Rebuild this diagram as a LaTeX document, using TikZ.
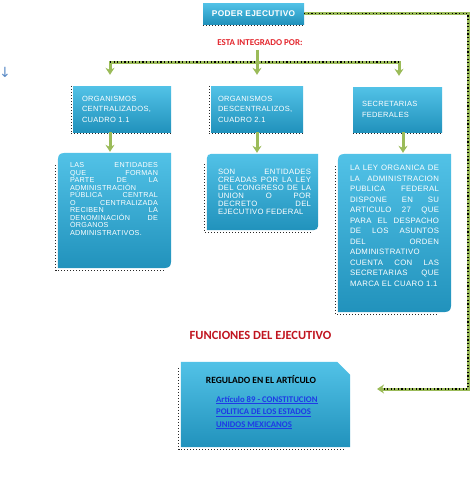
\documentclass[tikz,border=0pt]{standalone}
\usepackage{fontspec}
\setmainfont{Liberation Sans}
\newfontfamily\boxfont[LetterSpace=4]{Liberation Sans}
\newfontfamily\calfont{Carlito}
\newfontfamily\symfont{DejaVu Sans}
\usetikzlibrary{arrows.meta,calc}
\definecolor{pelight}{HTML}{52C2E7}
\definecolor{pedark}{HTML}{2192BC}
\definecolor{pegreen}{HTML}{9BBB59}
\definecolor{pered}{HTML}{E3262D}
\definecolor{pemaroon}{HTML}{C0141F}
\definecolor{pelink}{HTML}{1E3AE6}
\definecolor{pearrow}{HTML}{5A8AC6}

\begin{document}
\begin{tikzpicture}[x=1pt, y=-1pt,
    headbox/.style={rectangle, top color=pelight, bottom color=pedark, minimum width=101pt, minimum height=21pt, inner sep=0pt, text=white, font=\boxfont\bfseries\fontsize{8.3}{10}\selectfont},
    orgbox/.style={rectangle, top color=pelight, bottom color=pedark, minimum height=46pt, inner ysep=0pt, text=white, align=left, font=\boxfont\fontsize{7.5}{10.5}\selectfont},
    areabox/.style 2 args={rectangle, minimum width=#1, minimum height=#2, inner sep=0pt},
    bodytxt/.style={text=white, align=justify, inner sep=0pt},
    boxfill/.style={top color=pelight, bottom color=pedark},
    gline/.style={draw=pegreen, line width=3pt},
    garrow/.style={gline, -{Stealth[length=7pt, width=9pt]}},
    bdots/.style={draw=black, line width=1.2pt, dash pattern=on 1.2pt off 2.4pt},
    shdots/.style={draw=black!85, line width=1pt, dash pattern=on 1pt off 2pt}]
\useasboundingbox (0,0) rectangle (474,482);

% cabeza
\node[headbox] (pe) at (253.5,13.5) {PODER EJECUTIVO};
\draw[shdots] ([yshift=-1.5pt]pe.south west) -- ([yshift=-1.5pt]pe.south east);
\node[font=\calfont\bfseries\fontsize{9}{10}\selectfont, text=pered] (integ) at (260,43) {ESTA INTEGRADO POR:};
\node[font=\symfont\fontsize{14}{15}\selectfont, text=pearrow, inner sep=0pt] (flecha) at (5,72) {↓};

% organismos
\node[orgbox, text width=80pt, inner xsep=9pt] (cen) at (122,109) {ORGANISMOS\\CENTRALIZADOS,\\CUADRO 1.1};
\node[orgbox, text width=78pt, inner xsep=7pt] (des) at (257,109) {ORGANISMOS\\DESCENTRALIZOS,\\CUADRO 2.1};
\node[orgbox, text width=71pt, inner xsep=9pt, minimum height=45pt] (sec) at (397.5,109.5) {SECRETARIAS\\FEDERALES};
\draw[shdots] ([xshift=-1.5pt]cen.north west) |- ([yshift=-1.5pt]cen.south east);
\draw[shdots] ([xshift=-1.5pt]des.north west) |- ([yshift=-1.5pt]des.south east);
\draw[shdots] ([yshift=-1.5pt]sec.south west) -- ([yshift=-1.5pt]sec.south east);

% descripciones
\node[areabox={113pt}{115pt}] (ent) at (114.5,210.5) {};
\node[areabox={111pt}{76pt}] (cre) at (262.5,192) {};
\node[areabox={113pt}{158pt}] (ley) at (394.5,233) {};
\shade[boxfill] (ent.south west) -- ($(ent.north west)+(0,14)$) .. controls (ent.north west) .. ($(ent.north west)+(14,0)$) -- (ent.north east) -- ($(ent.south east)+(0,-14)$) .. controls (ent.south east) .. ($(ent.south east)+(-14,0)$) -- cycle;
\shade[boxfill] (cre.south west) -- ($(cre.north west)+(0,10)$) .. controls (cre.north west) .. ($(cre.north west)+(10,0)$) -- (cre.north east) -- ($(cre.south east)+(0,-10)$) .. controls (cre.south east) .. ($(cre.south east)+(-10,0)$) -- cycle;
\shade[boxfill] (ley.south west) -- ($(ley.north west)+(0,14)$) .. controls (ley.north west) .. ($(ley.north west)+(14,0)$) -- (ley.north east) -- ($(ley.south east)+(0,-14)$) .. controls (ley.south east) .. ($(ley.south east)+(-14,0)$) -- cycle;
\draw[shdots] ($(ent.north west)+(-2,12)$) |- ($(ent.south east)+(-6,2)$);
\draw[shdots] ($(cre.north west)+(-2,10)$) |- ($(cre.south east)+(-6,2)$);
\draw[shdots] ($(ley.north west)+(-2,12)$) |- ($(ley.south east)+(-12,2)$);

\node[bodytxt, text width=88pt, font=\boxfont\fontsize{7.2}{7.5}\selectfont] (enttxt) at (114,199) {LAS ENTIDADES\linebreak QUE FORMAN\linebreak PARTE DE LA\linebreak ADMINISTRACIÓN\linebreak PÚBLICA CENTRAL\linebreak O CENTRALIZADA\linebreak RECIBEN LA\linebreak DENOMINACIÓN DE\linebreak ÓRGANOS\linebreak ADMINISTRATIVOS.};
\node[bodytxt, text width=93pt, font=\boxfont\fontsize{7.7}{8.1}\selectfont] (cretxt) at (264.5,192) {SON ENTIDADES\linebreak CREADAS POR LA LEY\linebreak DEL CONGRESO DE LA\linebreak UNION O POR\linebreak DECRETO DEL\linebreak EJECUTIVO FEDERAL};
\node[bodytxt, text width=89pt, font=\boxfont\fontsize{7.8}{10.5}\selectfont] (leytxt) at (394.5,226) {LA LEY ORGANICA DE\linebreak LA ADMINISTRACION\linebreak PUBLICA FEDERAL\linebreak DISPONE EN SU\linebreak ARTICULO 27 QUE\linebreak PARA EL DESPACHO\linebreak DE LOS ASUNTOS\linebreak DEL ORDEN\linebreak ADMINISTRATIVO\linebreak CUENTA CON LAS\linebreak SECRETARIAS QUE\linebreak MARCA EL CUARO 1.1};

% funciones
\node[font=\calfont\bfseries\fontsize{12.5}{14}\selectfont, text=pemaroon] (fun) at (260.5,335) {FUNCIONES DEL EJECUTIVO};
\node[areabox={169pt}{85pt}] (reg) at (265.5,404.5) {};
\shade[boxfill] (reg.north west) -- ($(reg.north east)+(-13,0)$) -- ($(reg.north east)+(0,13)$) -- (reg.south east) -- (reg.south west) -- cycle;
\draw[shdots] ($(reg.north west)+(-2,6)$) |- ($(reg.south east)+(-4,2)$);
\node[font=\calfont\bfseries\fontsize{9.5}{11}\selectfont] (regtit) at (261,380) {REGULADO EN EL ARTÍCULO};
\node[font=\calfont\bfseries\fontsize{8.7}{12.5}\selectfont, text=pelink, align=left, anchor=west, inner sep=0pt] (regart) at (216,412.5) {\underline{Artículo 89 - CONSTITUCION}\\\underline{POLITICA DE LOS ESTADOS}\\\underline{UNIDOS MEXICANOS}};

% conectores
\coordinate (bl) at (110,62);
\coordinate (bm) at (257,62);
\coordinate (br) at (399,62);
\coordinate (sx) at (403,140);
\coordinate (rc) at (468,389);
\coordinate (fend) at (377,389);
\draw[gline, {Stealth[length=7pt, width=9pt]}-{Stealth[length=7pt, width=9pt]}, shorten <=11pt, shorten >=11pt] (bl |- cen.north) -- (bl) -- (br) -- (br |- sec.north);
\draw[bdots] (bl) -- (br);
\draw[garrow, shorten >=11pt] (bm |- integ.south) -- (bm |- des.north);
\draw[garrow, shorten >=1pt] (cen.south -| bl) -- (ent.north -| bl);
\draw[garrow, shorten >=1pt] (des.south -| bm) -- (cre.north -| bm);
\draw[garrow, shorten >=1pt] (sec.south -| sx) -- (ley.north -| sx);
\draw[garrow] (pe.east) -| (rc) -- (fend);
\draw[bdots, shorten >=7pt] (pe.east) -| (rc) -- (fend);
\end{tikzpicture}
\end{document}
